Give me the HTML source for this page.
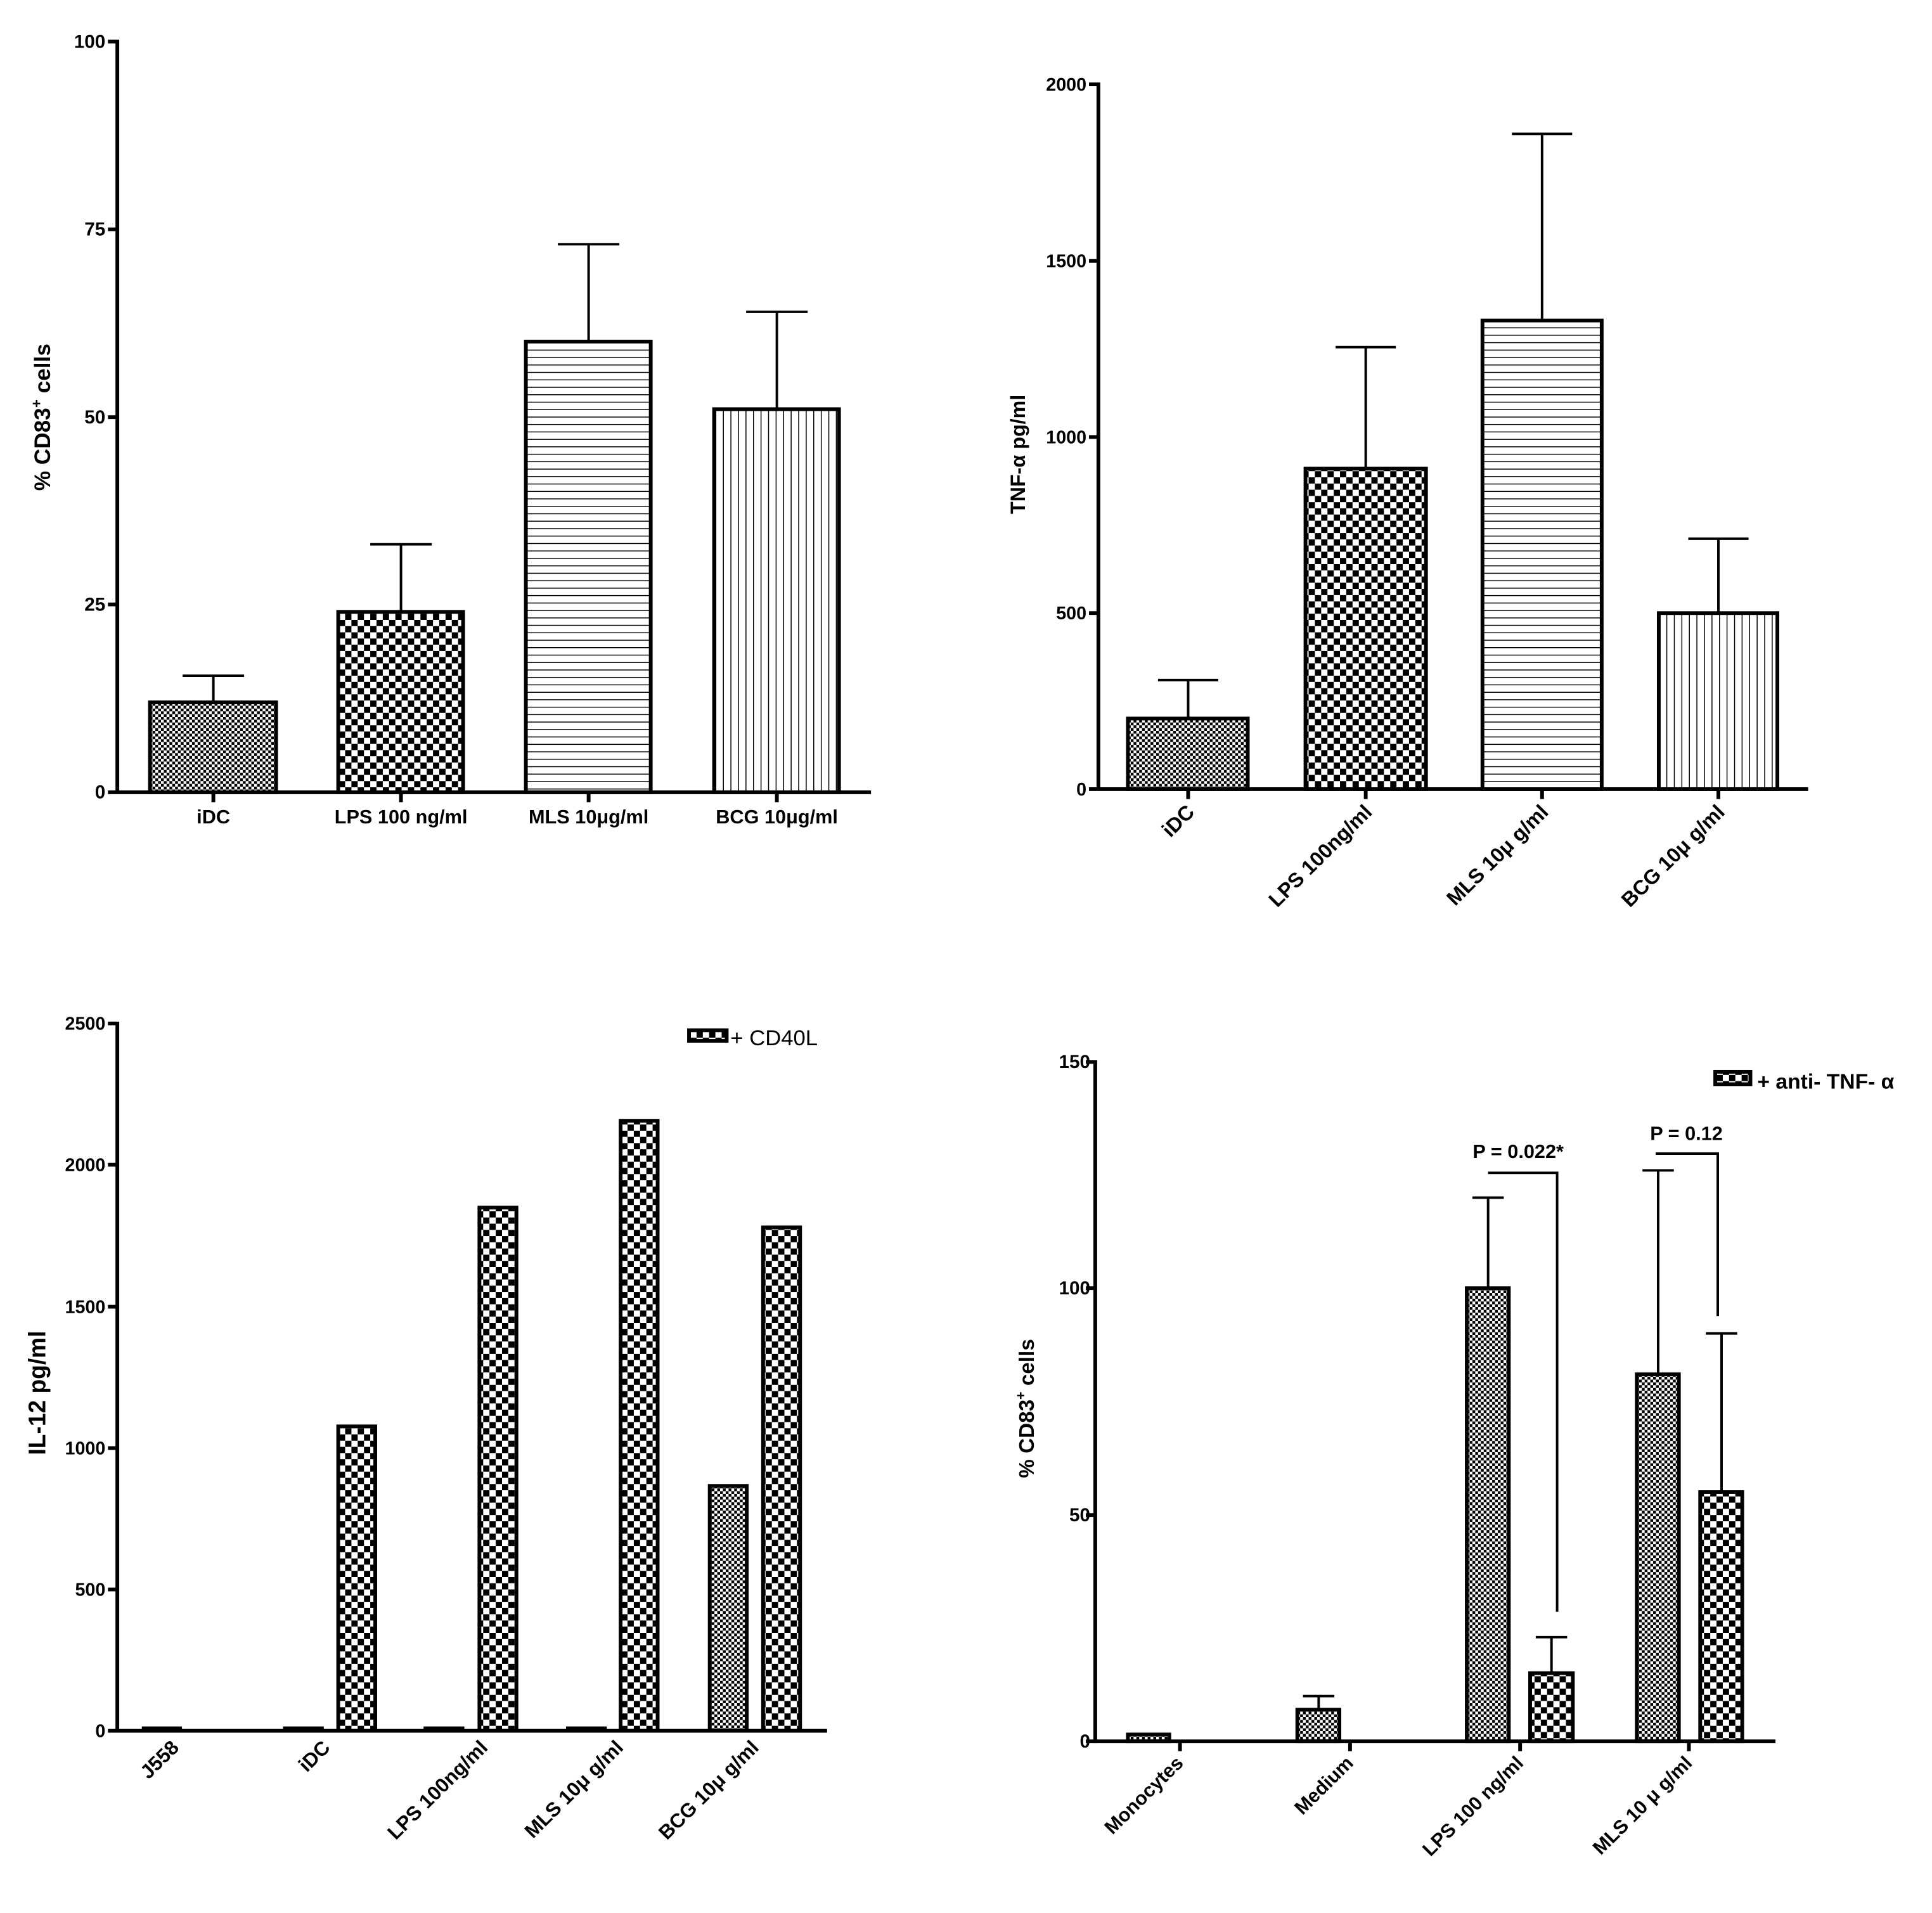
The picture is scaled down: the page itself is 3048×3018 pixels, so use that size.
<!DOCTYPE html>
<html><head><meta charset="utf-8"><style>html,body{margin:0;padding:0;background:#fff}svg{display:block}text{font-family:"Liberation Sans",Arial,sans-serif;font-weight:bold;fill:#000}</style></head>
<body>
<svg width="3048" height="3018" viewBox="0 0 3048 3018" xmlns="http://www.w3.org/2000/svg">
<defs>
<pattern id="fine" width="9" height="9" patternUnits="userSpaceOnUse"><rect width="9" height="9" fill="#fff"/><rect width="4.5" height="4.5" fill="#000"/><rect x="4.5" y="4.5" width="4.5" height="4.5" fill="#000"/></pattern>
<pattern id="coarse" width="20" height="20" patternUnits="userSpaceOnUse"><rect width="20" height="20" fill="#fff"/><rect width="10" height="10" fill="#000"/><rect x="10" y="10" width="10" height="10" fill="#000"/></pattern>
<pattern id="hl" width="12" height="12" patternUnits="userSpaceOnUse"><rect width="12" height="12" fill="#fff"/><rect y="0" width="12" height="1.5" fill="#000"/></pattern>
<pattern id="vl" width="12" height="12" patternUnits="userSpaceOnUse"><rect width="12" height="12" fill="#fff"/><rect x="0" width="1.5" height="12" fill="#000"/></pattern>
</defs>

<!-- Panel 1 -->
<g transform="scale(0.99 0.978)">
<g stroke="#000" stroke-width="4" fill="none">
<path d="M340 1133V1090M291 1090H389"/>
<path d="M639 987V878M590 878H688"/>
<path d="M938 551V394M889 394H987"/>
<path d="M1238 660V503M1189 503H1287"/>
</g>
<g stroke="#000" stroke-width="6">
<rect x="239" y="1133" width="201" height="145" fill="url(#fine)"/>
<rect x="539" y="987" width="199" height="291" fill="url(#coarse)"/>
<rect x="838" y="551" width="199" height="727" fill="url(#hl)"/>
<rect x="1138" y="660" width="199" height="618" fill="url(#vl)"/>
<path d="M187 64V1281M184 1278H1388M172 67H187M172 370H187M172 673H187M172 975H187M172 1278H187M340 1278V1294M639 1278V1294M938 1278V1294M1238 1278V1294" fill="none"/>
</g>
<g font-size="30" text-anchor="end">
<text x="168" y="77">100</text><text x="168" y="380">75</text><text x="168" y="683">50</text><text x="168" y="985">25</text><text x="168" y="1288">0</text>
</g>
<g font-size="31" text-anchor="middle">
<text x="340" y="1328">iDC</text><text x="639" y="1328">LPS 100 ng/ml</text><text x="938" y="1328">MLS 10μg/ml</text><text x="1238" y="1328">BCG 10μg/ml</text>
</g>
<text font-size="36" text-anchor="middle" transform="translate(80 673) rotate(-90)">% CD83<tspan dy="-14" font-size="23">+</tspan><tspan dy="14"> cells</tspan></text>
</g>

<!-- Panel 3 TNF -->
<g transform="translate(1524 0) scale(0.99 0.978) translate(-1524 0)">
<g stroke="#000" stroke-width="4" fill="none">
<path d="M1878 1159V1097M1830 1097H1926"/>
<path d="M2161 756V560M2113 560H2209"/>
<path d="M2442 517V216M2394 216H2490"/>
<path d="M2723 989V869M2675 869H2771"/>
</g>
<g stroke="#000" stroke-width="6">
<rect x="1782" y="1159" width="191" height="114" fill="url(#fine)"/>
<rect x="2065" y="756" width="192" height="517" fill="url(#coarse)"/>
<rect x="2347" y="517" width="190" height="756" fill="url(#hl)"/>
<rect x="2628" y="989" width="189" height="284" fill="url(#vl)"/>
<path d="M1735 133V1276M1732 1273H2866M1720 136H1735M1720 421H1735M1720 705H1735M1720 989H1735M1720 1273H1735M1878 1273V1289M2161 1273V1289M2442 1273V1289M2723 1273V1289" fill="none"/>
</g>
<g font-size="29" text-anchor="end">
<text x="1716" y="146">2000</text><text x="1716" y="431">1500</text><text x="1716" y="715">1000</text><text x="1716" y="999">500</text><text x="1716" y="1283">0</text>
</g>
<g font-size="33" text-anchor="end">
<text transform="translate(1890 1312) rotate(-45)">iDC</text>
<text transform="translate(2173 1312) rotate(-45)">LPS 100ng/ml</text>
<text transform="translate(2454 1312) rotate(-45)">MLS 10μ g/ml</text>
<text transform="translate(2735 1312) rotate(-45)">BCG 10μ g/ml</text>
</g>
<text font-size="33" text-anchor="middle" transform="translate(1618 733) rotate(-90)">TNF-α  pg/ml</text>
</g>

<!-- Panel 4 IL-12 -->
<g transform="translate(0 1509) scale(0.99 0.978) translate(0 -1509)">
<g stroke="#000" stroke-width="6">
<rect x="229" y="2754" width="58" height="4" fill="#000"/>
<rect x="454" y="2754" width="59" height="4" fill="#000"/>
<rect x="678" y="2754" width="59" height="4" fill="#000"/>
<rect x="905" y="2754" width="59" height="4" fill="#000"/>
<rect x="539" y="2267" width="59" height="491" fill="url(#coarse)"/>
<rect x="764" y="1914" width="59" height="844" fill="url(#coarse)"/>
<rect x="989" y="1774" width="59" height="984" fill="url(#coarse)"/>
<rect x="1131" y="2363" width="59" height="395" fill="url(#fine)"/>
<rect x="1216" y="1946" width="59" height="812" fill="url(#coarse)"/>
<path d="M187 1614V2761M184 2758H1318M172 1617H187M172 1845H187M172 2074H187M172 2302H187M172 2530H187M172 2758H187" fill="none"/>
<rect x="1098" y="1628" width="60" height="17" fill="url(#coarse)"/>
</g>
<g font-size="29" text-anchor="end">
<text x="168" y="1627">2500</text><text x="168" y="1855">2000</text><text x="168" y="2084">1500</text><text x="168" y="2312">1000</text><text x="168" y="2540">500</text><text x="168" y="2768">0</text>
</g>
<text x="1164" y="1652" font-size="35" style="font-weight:normal">+ CD40L</text>
<g font-size="32" text-anchor="end">
<text transform="translate(287 2787) rotate(-45)">J558</text>
<text transform="translate(528 2787) rotate(-45)">iDC</text>
<text transform="translate(779 2787) rotate(-45)">LPS 100ng/ml</text>
<text transform="translate(995 2787) rotate(-45)">MLS 10μ g/ml</text>
<text transform="translate(1211 2787) rotate(-45)">BCG 10μ g/ml</text>
</g>
<text font-size="38" text-anchor="middle" transform="translate(72 2213) rotate(-90)">IL-12 pg/ml</text>
</g>

<!-- Panel 2 -->
<g transform="translate(1524 1509) scale(0.99 0.978) translate(-1524 -1509)">
<g stroke="#000" stroke-width="4" fill="none">
<path d="M2086 2724V2702M2061 2702H2111"/>
<path d="M2356 2044V1898M2331 1898H2381"/>
<path d="M2457 2665V2607M2432 2607H2482"/>
<path d="M2627 2183V1854M2602 1854H2652"/>
<path d="M2728 2373V2117M2703 2117H2753"/>
<path d="M2356 1858H2466V2566"/>
<path d="M2623 1827H2722V2089"/>
</g>
<g stroke="#000" stroke-width="6">
<rect x="1782" y="2764" width="66" height="11" fill="url(#fine)"/>
<rect x="2052" y="2724" width="67" height="51" fill="url(#fine)"/>
<rect x="2322" y="2044" width="67" height="731" fill="url(#fine)"/>
<rect x="2423" y="2665" width="68" height="110" fill="url(#coarse)"/>
<rect x="2593" y="2183" width="67" height="592" fill="url(#fine)"/>
<rect x="2694" y="2373" width="67" height="402" fill="url(#coarse)"/>
<path d="M1730 1676V2778M1727 2775H2814M1715 1679H1730M1715 2044H1730M1715 2410H1730M1715 2775H1730M1865 2775V2791M2136 2775V2791M2407 2775V2791M2676 2775V2791" fill="none"/>
<rect x="2718" y="1695" width="56" height="20" fill="url(#coarse)"/>
</g>
<g font-size="30" text-anchor="end">
<text x="1722" y="1689">150</text><text x="1722" y="2054">100</text><text x="1722" y="2420">50</text><text x="1722" y="2785">0</text>
</g>
<text x="2785" y="1722" font-size="34">+ anti- TNF- α</text>
<text x="2404" y="1834" font-size="31" text-anchor="middle">P = 0.022*</text>
<text x="2672" y="1805" font-size="31" text-anchor="middle">P = 0.12</text>
<g font-size="31" text-anchor="end">
<text transform="translate(1872 2812) rotate(-45)">Monocytes</text>
<text transform="translate(2143 2812) rotate(-45)">Medium</text>
<text transform="translate(2414 2812) rotate(-45)">LPS 100 ng/ml</text>
<text transform="translate(2683 2812) rotate(-45)">MLS 10 μ g/ml</text>
</g>
<text font-size="34" text-anchor="middle" transform="translate(1632 2238) rotate(-90)">% CD83<tspan dy="-13" font-size="22">+</tspan><tspan dy="13"> cells</tspan></text>
</g>
</svg>
</body></html>
